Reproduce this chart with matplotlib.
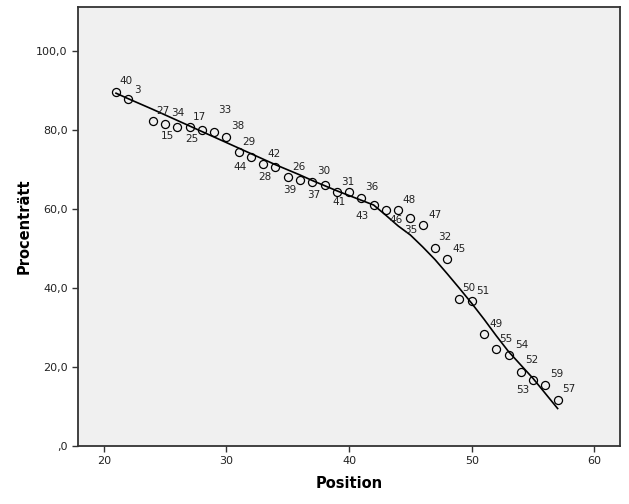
# Scatter of Procenträtt vs Position with case labels and a fit line
import numpy as np
import matplotlib.pyplot as plt

# data
position = [21, 22, 24, 25, 26, 27, 28, 29, 30, 31, 32, 33, 34, 35, 36, 37, 38, 39,
            40, 41, 42, 43, 44, 45, 46, 47, 48, 49, 50, 51, 52, 53, 54, 55, 56, 57]
procent = [89.7, 87.8, 82.2, 81.5, 80.8, 80.8, 80.1, 79.6, 78.2, 74.4, 73.2, 71.3,
           70.6, 68.0, 67.3, 66.8, 66.1, 64.2, 64.2, 62.9, 60.9, 59.7, 59.7, 57.8,
           56.0, 50.0, 47.4, 37.3, 36.6, 28.4, 24.5, 23.1, 18.7, 16.7, 15.4, 11.6]
case_labels = ['40', '3', '27', '15', '34', '25', '17', '33', '38', '44', '29', '28',
               '42', '39', '26', '37', '30', '41', '31', '43', '36', '46', '48', '35',
               '47', '32', '45', '50', '51', '49', '55', '54', '52', '53', '59', '57']
fit_line = [89.3, 87.9, 85.2, 83.8, 82.4, 81.0, 79.6, 78.2, 76.8, 75.4, 74.0, 72.6,
            71.2, 69.9, 68.6, 67.2, 65.9, 64.6, 63.4, 62.2, 61.0, 58.4, 55.7, 53.4,
            50.4, 47.2, 43.6, 39.9, 36.1, 32.1, 27.9, 23.9, 20.5, 17.1, 13.3, 9.5]

xticks = [20, 30, 40, 50, 60]
yticks = [0, 20, 40, 60, 80, 100]
ytick_labels = [',0', '20,0', '40,0', '60,0', '80,0', '100,0']

# label offsets in pixels (default is up and to the right)
label_offsets = [(10, 11), (9, 9), (10, 10), (2, -12), (0, 14), (2, -12), (-2, 13),
                 (11, 22), (11, 11), (1, -15), (-2, 15), (2, -13), (-1, 13), (2, -13),
                 (-1, 13), (1, -13), (-1, 14), (2, -10), (-1, 10), (1, -18), (-2, 18),
                 (10, -10), (11, 10), (0, -12), (12, 10), (10, 11), (12, 10), (9, 11),
                 (11, 10), (12, 10), (10, 10), (13, 10), (11, 12), (-10, -10),
                 (11, 11), (11, 11)]

fig = plt.figure(figsize=(6.29, 5.04), dpi=100)
ax = fig.add_axes([0.124, 0.115, 0.862, 0.871])
ax.set_facecolor('#f0f0f0')

ax.plot(position, fit_line, color='black', lw=1.2, zorder=2)
ax.plot(position, procent, 'o', mfc='none', mec='black', ms=5.8, mew=0.9, zorder=3)

for x, y, lab, off in zip(position, procent, case_labels, label_offsets):
    ax.annotate(lab, (x, y), xytext=off, textcoords='offset pixels',
                ha='center', va='center', fontsize=7.5, color='#222222')

ax.set_xlim(17.9, 62.1)
ax.set_ylim(0, 111.1)
ax.set_xticks(xticks)
ax.set_yticks(yticks)
ax.set_yticklabels(ytick_labels)
ax.tick_params(direction='out', length=4, width=1, colors='#333333',
               labelsize=8, labelcolor='#222222')
for sp in ax.spines.values():
    sp.set_color('#333333')
    sp.set_linewidth(1.3)

ax.set_xlabel('Position', fontsize=10.5, fontweight='bold', labelpad=7)
ax.set_ylabel('Procenträtt', fontsize=10.5, fontweight='bold', labelpad=3)

fig.savefig('out.png', dpi=100, facecolor='white')
